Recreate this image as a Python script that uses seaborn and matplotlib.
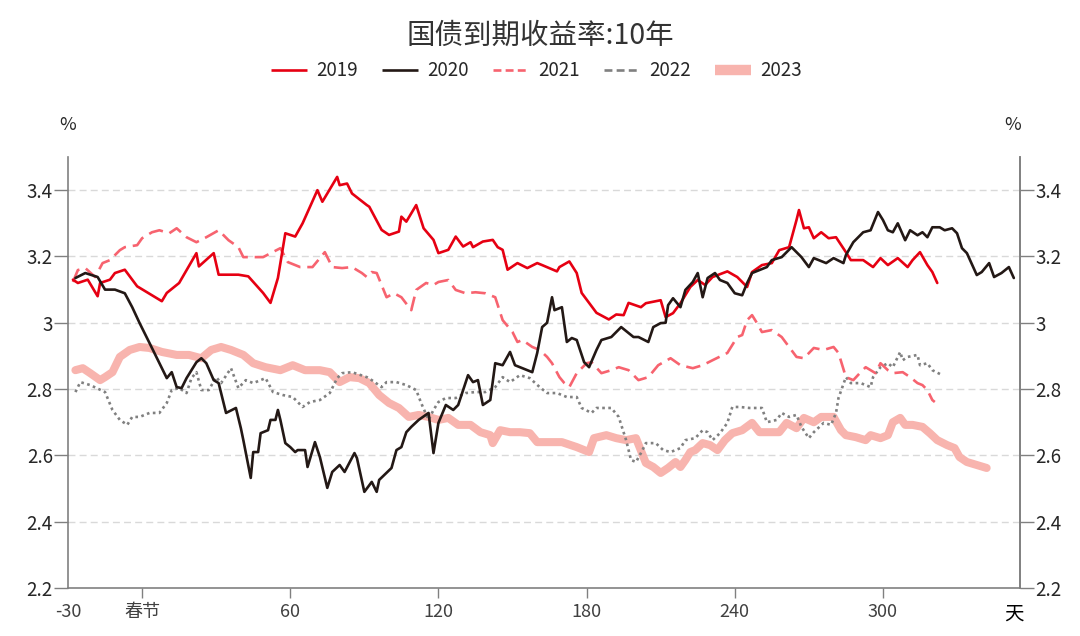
import matplotlib
matplotlib.use("Agg")
import matplotlib.pyplot as plt
from matplotlib.lines import Line2D
import seaborn as sns
import pandas as pd

# ---------------- data (days relative to Spring Festival, yield %) ----------------
x2019 = [-28, -26, -22, -18, -17, -13, -11, -7, -2, 8, 10, 15, 22, 23, 29, 31, 39, 43, 49, 52,
         55, 58, 62, 65, 71, 73, 79, 80, 83, 85, 91, 92, 97, 100, 104, 105, 107, 111, 114, 118,
         120, 124, 127, 130, 133, 134, 138, 142, 144, 146, 148, 152, 156, 160, 162, 168, 169, 173,
         176, 178, 181, 184, 189, 192, 195, 197, 202, 204, 210, 212, 215, 218, 222, 225, 228, 231,
         237, 241, 245, 247, 251, 255, 258, 262, 265, 266, 268, 270, 272, 275, 278, 281, 285, 287,
         292, 296, 299, 302, 306, 310, 312, 315, 318, 320, 322]
y2019 = [3.13, 3.12, 3.13, 3.08, 3.12, 3.13, 3.15, 3.16, 3.11, 3.065, 3.09, 3.12, 3.21, 3.17, 3.21,
         3.145, 3.145, 3.14, 3.09, 3.06, 3.135, 3.27, 3.26, 3.30, 3.40, 3.365, 3.44, 3.415, 3.42,
         3.39, 3.355, 3.35, 3.28, 3.265, 3.275, 3.32, 3.305, 3.355, 3.285, 3.25, 3.21, 3.22, 3.26,
         3.23, 3.243, 3.228, 3.245, 3.25, 3.228, 3.22, 3.16, 3.18, 3.165, 3.18, 3.174, 3.155, 3.168,
         3.185, 3.15, 3.09, 3.06, 3.03, 3.01, 3.025, 3.023, 3.06, 3.047, 3.059, 3.068, 3.017, 3.029,
         3.059, 3.108, 3.129, 3.114, 3.138, 3.155, 3.138, 3.108, 3.153, 3.174, 3.18, 3.219, 3.228,
         3.31, 3.34, 3.285, 3.288, 3.255, 3.273, 3.255, 3.258, 3.213, 3.189, 3.189, 3.168, 3.195,
         3.174, 3.195, 3.168, 3.189, 3.213, 3.174, 3.153, 3.12]

x2020 = [-27, -23, -18, -15, -11, -7, -4, -1, 3, 7, 10, 12, 14, 16, 18, 22, 24, 26, 29, 31, 34, 38,
         40, 41, 44, 45, 47, 48, 51, 52, 54, 55, 56, 58, 60, 62, 63, 66, 67, 70, 72, 75, 77, 80, 82,
         86, 87, 90, 93, 95, 96, 101, 103, 105, 107, 109, 112, 116, 118, 120, 123, 126, 128, 130,
         132, 134, 136, 138, 141, 143, 146, 149, 151, 158, 160, 162, 164, 166, 167, 170, 172, 174,
         176, 179, 181, 184, 186, 190, 194, 199, 201, 205, 207, 210, 212, 213, 215, 218, 220, 223,
         225, 227, 229, 232, 234, 237, 240, 243, 245, 247, 253, 255, 259, 263, 267, 270, 272, 274,
         277, 280, 284, 285, 288, 292, 295, 298, 300, 302, 304, 306, 309, 311, 314, 316, 318, 320,
         323, 325, 328, 330, 332, 334, 338, 340, 343, 345, 348, 351, 353]
y2020 = [3.135, 3.15, 3.138, 3.10, 3.10, 3.089, 3.047, 2.999, 2.939, 2.878, 2.833, 2.851, 2.806,
         2.803, 2.833, 2.881, 2.893, 2.878, 2.827, 2.818, 2.728, 2.743, 2.682, 2.646, 2.532, 2.61,
         2.61, 2.667, 2.676, 2.707, 2.707, 2.737, 2.707, 2.637, 2.625, 2.61, 2.616, 2.616, 2.565,
         2.64, 2.595, 2.502, 2.55, 2.571, 2.55, 2.607, 2.592, 2.49, 2.52, 2.49, 2.526, 2.562, 2.616,
         2.625, 2.67, 2.686, 2.707, 2.728, 2.607, 2.698, 2.752, 2.737, 2.752, 2.797, 2.842, 2.821,
         2.827, 2.752, 2.767, 2.878, 2.872, 2.912, 2.872, 2.851, 2.909, 2.987, 3.0, 3.077, 3.038,
         3.047, 2.942, 2.954, 2.948, 2.881, 2.866, 2.918, 2.948, 2.957, 2.987, 2.957, 2.957, 2.942,
         2.987, 2.999, 3.0, 3.053, 3.074, 3.047, 3.099, 3.123, 3.15, 3.077, 3.135, 3.15, 3.129, 3.12,
         3.089, 3.083, 3.12, 3.15, 3.168, 3.189, 3.198, 3.228, 3.198, 3.168, 3.195, 3.189, 3.18,
         3.195, 3.18, 3.204, 3.243, 3.273, 3.279, 3.334, 3.31, 3.279, 3.273, 3.30, 3.249, 3.279,
         3.264, 3.273, 3.258, 3.288, 3.288, 3.279, 3.285, 3.27, 3.225, 3.21, 3.144, 3.153, 3.18,
         3.138, 3.15, 3.168, 3.135]

x2021 = [-28, -26, -23, -19, -16, -13, -9, -7, -2, 0, 4, 7, 11, 14, 18, 22, 26, 31, 35, 39, 41, 49,
         56, 59, 64, 69, 74, 77, 81, 85, 89, 91, 93, 95, 99, 102, 105, 109, 111, 115, 118, 120, 124,
         127, 131, 135, 139, 143, 146, 150, 152, 154, 158, 161, 164, 166, 169, 171, 173, 176, 180,
         182, 186, 190, 193, 197, 201, 205, 209, 214, 218, 223, 227, 231, 237, 241, 243, 245, 247,
         249, 251, 255, 259, 262, 265, 268, 272, 276, 280, 282, 285, 288, 291, 293, 297, 299, 302,
         304, 308, 311, 314, 316, 318, 320, 321]
y2021 = [3.123, 3.159, 3.165, 3.138, 3.18, 3.189, 3.219, 3.228, 3.234, 3.255, 3.273, 3.279, 3.27,
         3.285, 3.258, 3.243, 3.258, 3.279, 3.249, 3.228, 3.198, 3.198, 3.225, 3.183, 3.168, 3.168,
         3.213, 3.168, 3.165, 3.168, 3.15, 3.138, 3.153, 3.15, 3.077, 3.089, 3.077, 3.038, 3.099,
         3.12, 3.114, 3.123, 3.129, 3.099, 3.089, 3.092, 3.089, 3.077, 3.008, 2.972, 2.942, 2.948,
         2.927, 2.918, 2.897, 2.878, 2.836, 2.818, 2.806, 2.848, 2.878, 2.881, 2.848, 2.857, 2.866,
         2.857, 2.827, 2.836, 2.872, 2.893, 2.872, 2.863, 2.872, 2.887, 2.909, 2.957, 2.963, 3.008,
         3.023, 2.999, 2.972, 2.978, 2.957, 2.927, 2.897, 2.893, 2.924, 2.918, 2.927, 2.909, 2.836,
         2.827, 2.851, 2.866, 2.848, 2.878, 2.857, 2.848, 2.851, 2.836, 2.818, 2.812, 2.797, 2.767,
         2.761]

x2022 = [-27, -25, -21, -15, -12, -9, -6, -4, -1, 3, 7, 10, 12, 15, 18, 20, 22, 24, 27, 30, 32, 36,
         39, 42, 45, 50, 53, 57, 61, 65, 68, 72, 76, 79, 81, 85, 91, 93, 97, 99, 103, 107, 111, 113,
         116, 118, 120, 123, 127, 131, 135, 139, 143, 146, 149, 153, 157, 161, 164, 168, 172, 176,
         178, 182, 184, 186, 190, 193, 196, 198, 200, 202, 204, 208, 211, 214, 218, 220, 224, 227,
         229, 231, 234, 237, 239, 242, 246, 251, 253, 257, 259, 262, 265, 267, 270, 272, 276, 279,
         281, 282, 285, 287, 291, 295, 296, 299, 302, 304, 307, 308, 310, 314, 315, 318, 320, 324]
y2022 = [2.791, 2.821, 2.812, 2.791, 2.737, 2.707, 2.692, 2.716, 2.716, 2.728, 2.728, 2.758, 2.797,
         2.803, 2.788, 2.833, 2.851, 2.797, 2.797, 2.836, 2.818, 2.863, 2.803, 2.827, 2.818, 2.833,
         2.791, 2.782, 2.776, 2.746, 2.761, 2.767, 2.788, 2.833, 2.848, 2.851, 2.836, 2.827, 2.806,
         2.821, 2.821, 2.812, 2.797, 2.758, 2.707, 2.737, 2.761, 2.773, 2.773, 2.788, 2.791, 2.791,
         2.806, 2.836, 2.821, 2.842, 2.833, 2.806, 2.788, 2.788, 2.776, 2.776, 2.743, 2.728, 2.743,
         2.743, 2.743, 2.716, 2.646, 2.586, 2.58, 2.607, 2.637, 2.637, 2.616, 2.61, 2.622, 2.646,
         2.652, 2.676, 2.67, 2.646, 2.667, 2.698, 2.746, 2.746, 2.743, 2.743, 2.70, 2.707, 2.728,
         2.716, 2.722, 2.686, 2.652, 2.67, 2.698, 2.692, 2.728, 2.773, 2.836, 2.818, 2.818, 2.806,
         2.836, 2.866, 2.878, 2.866, 2.912, 2.887, 2.897, 2.903, 2.872, 2.878, 2.857, 2.842]

x2023 = [-27, -24, -21, -17, -15, -12, -9, -5, -1, 3, 8, 14, 19, 24, 28, 32, 36, 41, 45, 50, 56, 61,
         66, 72, 76, 80, 84, 88, 92, 96, 100, 104, 108, 112, 116, 120, 124, 128, 133, 137, 141, 142,
         145, 149, 153, 157, 160, 165, 170, 176, 181, 183, 188, 192, 196, 200, 204, 207, 210, 213,
         216, 218, 220, 222, 224, 227, 230, 233, 236, 239, 243, 247, 250, 254, 258, 261, 265, 268,
         272, 275, 280, 283, 285, 289, 293, 295, 299, 302, 304, 307, 309, 312, 316, 319, 322, 326,
         329, 331, 334, 338, 342]
y2023 = [2.857, 2.863, 2.848, 2.827, 2.836, 2.851, 2.897, 2.918, 2.927, 2.924, 2.912, 2.903, 2.903,
         2.893, 2.918, 2.927, 2.918, 2.903, 2.878, 2.866, 2.857, 2.872, 2.857, 2.857, 2.851, 2.821,
         2.836, 2.833, 2.818, 2.782, 2.758, 2.743, 2.716, 2.722, 2.716, 2.707, 2.713, 2.692, 2.692,
         2.67, 2.661, 2.637, 2.676, 2.67, 2.67, 2.667, 2.64, 2.64, 2.64, 2.625, 2.61, 2.652, 2.661,
         2.652, 2.646, 2.652, 2.577, 2.565, 2.547, 2.562, 2.58, 2.565, 2.586, 2.61, 2.616, 2.637,
         2.631, 2.616, 2.646, 2.667, 2.676, 2.698, 2.67, 2.67, 2.67, 2.698, 2.682, 2.713, 2.70,
         2.716, 2.716, 2.676, 2.661, 2.655, 2.646, 2.661, 2.652, 2.661, 2.70, 2.713, 2.692, 2.692,
         2.686, 2.667, 2.646, 2.631, 2.622, 2.595, 2.58, 2.571, 2.562]

series_names = ["2019", "2020", "2021", "2022", "2023"]
x_ticks = [-30, 0, 60, 120, 180, 240, 300, 353]
x_tick_labels = ["-30", "春节", "60", "120", "180", "240", "300", "天"]
y_ticks = [2.2, 2.4, 2.6, 2.8, 3.0, 3.2, 3.4]
y_tick_labels = ["2.2", "2.4", "2.6", "2.8", "3", "3.2", "3.4"]
title = "国债到期收益率:10年"

# ---------------- styling ----------------
sns.set_theme(style="white")
plt.rcParams["font.family"] = ["Noto Sans CJK SC", "DejaVu Sans"]

fig = plt.figure(figsize=(10.8, 6.36), dpi=100)
ax = fig.add_axes([68 / 1080, 1 - 588 / 636, (1020 - 68) / 1080, (588 - 157) / 636])

styles = {
    "2019": dict(color="#e60012", lw=1.9, ls="-", leg_ls="-", z=4),
    "2020": dict(color="#231815", lw=1.9, ls="-", leg_ls="-", z=5),
    "2021": dict(color="#f7636f", lw=1.9, ls=(0, (5.5, 2.6)), leg_ls=(0, (3, 1.6)), z=3),
    "2022": dict(color="#808080", lw=1.9, ls=(0, (1, 1.3)), leg_ls=(0, (3, 1.6)), z=2),
    "2023": dict(color="#f8b4ae", lw=5.8, ls="-", leg_ls="-", z=1),
}
data = {
    "2019": (x2019, y2019),
    "2020": (x2020, y2020),
    "2021": (x2021, y2021),
    "2022": (x2022, y2022),
    "2023": (x2023, y2023),
}

for name in series_names:
    xs, ys = data[name]
    df = pd.DataFrame({"day": xs, "yield": ys})
    st = styles[name]
    sns.lineplot(data=df, x="day", y="yield", ax=ax, color=st["color"], lw=st["lw"],
                 estimator=None, sort=False, zorder=st["z"], legend=False)
    line = ax.lines[-1]
    line.set_linestyle(st["ls"])
    line.set_solid_joinstyle("round")

ax.set_xlim(-30, 355.5)
ax.set_ylim(2.2, 3.5)
ax.set_xlabel("")
ax.set_ylabel("")

ax.set_xticks(x_ticks)
ax.set_xticklabels(x_tick_labels)
ax.set_yticks(y_ticks)
ax.set_yticklabels(y_tick_labels)

spine_c = "#808080"
ax.spines["top"].set_visible(False)
for s in ["left", "right", "bottom"]:
    ax.spines[s].set_color(spine_c)
    ax.spines[s].set_linewidth(1.2)

ax.tick_params(axis="x", direction="out", length=7, width=1, color=spine_c, pad=4,
               labelsize=13, labelcolor="#404040", bottom=True)
ax.tick_params(axis="y", direction="out", length=10, width=1, color=spine_c, pad=1,
               labelsize=13.5, labelcolor="#262626", left=True)
ticks = ax.xaxis.get_major_ticks()
ticks[0].tick1line.set_visible(False)
ticks[-1].tick1line.set_visible(False)
ax.get_xticklabels()[-1].set_color("#000000")
ax.get_xticklabels()[-1].set_fontsize(14)

for yv in y_ticks[1:]:
    ax.axhline(yv, color="#d9d9d9", lw=1.0, ls=(0, (5, 3)), zorder=0)

# right axis mirror
ax2 = ax.twinx()
ax2.set_ylim(2.2, 3.5)
ax2.set_yticks(y_ticks)
ax2.set_yticklabels(y_tick_labels)
ax2.tick_params(axis="y", direction="out", length=10, width=1, color=spine_c, pad=1,
                labelsize=13.5, labelcolor="#262626", right=True)
for s in ["top", "left", "bottom"]:
    ax2.spines[s].set_visible(False)
ax2.spines["right"].set_color(spine_c)
ax2.spines["right"].set_linewidth(1.2)
ax2.grid(False)

# legend
proxies = [Line2D([0], [0], color=styles[n]["color"],
                  lw=(styles[n]["lw"] if n != "2023" else 7.5),
                  ls=styles[n]["leg_ls"], solid_capstyle="butt") for n in series_names]
leg = fig.legend(proxies, series_names, loc="center",
                 bbox_to_anchor=(0.497, 1 - 71 / 636), ncol=5, frameon=False,
                 fontsize=13.5, handlelength=1.9, columnspacing=1.3, handletextpad=0.5)

fig.text(0.5, 1 - 36 / 636, title, ha="center", va="center", fontsize=20.5, color="#333333")
fig.text(68 / 1080, 1 - 125 / 636, "%", ha="center", va="center", fontsize=13, color="#262626")
fig.text(1013 / 1080, 1 - 125 / 636, "%", ha="center", va="center", fontsize=13, color="#262626")

fig.savefig("out.png", dpi=100)
